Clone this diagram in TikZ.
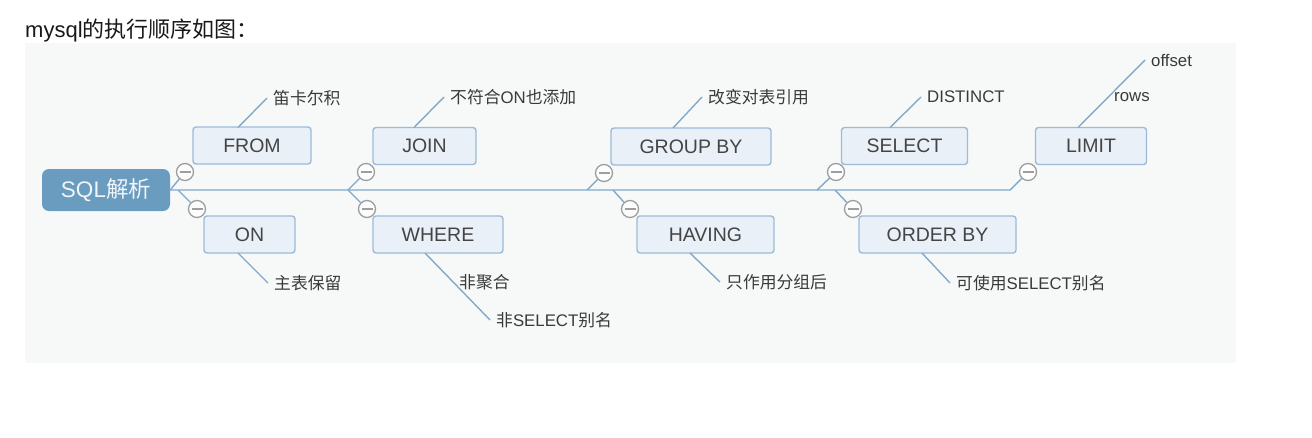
\documentclass[tikz,border=0pt]{standalone}
\usepackage{fontspec}
\setmainfont{Liberation Sans}
\newfontfamily\cjk{Noto Sans CJK SC}
\newcommand\zhtxt[1]{{\cjk #1}}
\definecolor{panelc}{HTML}{F7F9F8}
\definecolor{linec}{HTML}{82A9CC}
\definecolor{bordc}{HTML}{9BBBD8}
\definecolor{boxc}{HTML}{E9F0F7}
\definecolor{rootc}{HTML}{6A9CC0}
\definecolor{txtc}{HTML}{444444}
\definecolor{lblc}{HTML}{3A3A3A}
\definecolor{circc}{HTML}{9E9E9E}
\tikzset{
  conn/.style={draw=linec, line width=1.4pt},
  boxnode/.style={draw=bordc, fill=boxc, rounded corners=3pt, line width=1.4pt,
    minimum height=37pt, inner sep=0pt, text=txtc, font=\fontsize{19.5}{19.5}\selectfont},
  rootnode/.style={fill=rootc, rounded corners=7pt, minimum width=128pt, minimum height=42pt,
    inner sep=0pt, text=white!90!rootc, font=\fontsize{22.5}{22.5}\selectfont},
  collapse/.style={circle, draw=circc, fill=white!70!panelc, line width=1.3pt, minimum size=17pt, inner sep=0pt,
    path picture={\draw[circc, line width=1.3pt] ([xshift=-5.5pt]path picture bounding box.center) -- ([xshift=5.5pt]path picture bounding box.center);}},
  lbl/.style={anchor=west, inner xsep=6pt, inner ysep=2pt, text=lblc, font=\fontsize{16.8}{16.8}\selectfont},
}
\begin{document}
\begin{tikzpicture}[x=1pt, y=-1pt]
\useasboundingbox[fill=white] (0,0) rectangle (1312,437);
\fill[panelc] (25,43) rectangle (1236,363);
\node[anchor=west, inner sep=0pt, text=black!90, font=\fontsize{22}{22}\selectfont] (title) at (25,30) {mysql\zhtxt{的执行顺序如图：}};

% spine coordinates
\coordinate (b0) at (178,190);
\coordinate (b1) at (348,190);
\coordinate (b2) at (587,190);
\coordinate (b2h) at (613,190);
\coordinate (b3) at (817,190);
\coordinate (b3o) at (835,190);
\coordinate (b4) at (1010,190);

% boxes
\node[rootnode] (root) at (106,190) {SQL\zhtxt{解析}};
\node[boxnode, minimum width=118pt] (FROM) at (252,145.5) {FROM};
\node[boxnode, minimum width=91pt] (ON) at (249.5,234.5) {ON};
\node[boxnode, minimum width=103pt] (JOIN) at (424.5,146) {JOIN};
\node[boxnode, minimum width=130pt] (WHERE) at (438,234.5) {WHERE};
\node[boxnode, minimum width=160pt] (GROUP) at (691,146.5) {GROUP BY};
\node[boxnode, minimum width=137pt] (HAVING) at (705.5,234.5) {HAVING};
\node[boxnode, minimum width=126pt] (SELECT) at (904.5,146) {SELECT};
\node[boxnode, minimum width=111pt] (LIMIT) at (1091,146) {LIMIT};
\node[boxnode, minimum width=157pt] (ORDER) at (937.5,234.5) {ORDER BY};

% collapse markers
\node[collapse] (cFROM) at (185,172) {};
\node[collapse] (cON) at (197,209) {};
\node[collapse] (cJOIN) at (366,172) {};
\node[collapse] (cWHERE) at (367,209) {};
\node[collapse] (cGROUP) at (604,173) {};
\node[collapse] (cHAVING) at (630,209) {};
\node[collapse] (cSELECT) at (836,172) {};
\node[collapse] (cORDER) at (853,209) {};
\node[collapse] (cLIMIT) at (1028,172) {};

% main connectors
\draw[conn] (root.east) -- (cFROM);
\draw[conn] (root.east) -- (b4) -- (cLIMIT);
\draw[conn] (b0) -- (cON);
\draw[conn] (b1) -- (cJOIN);
\draw[conn] (b1) -- (cWHERE);
\draw[conn] (b2) -- (cGROUP);
\draw[conn] (b2h) -- (cHAVING);
\draw[conn] (b3) -- (cSELECT);
\draw[conn] (b3o) -- (cORDER);

% sub labels
\node[lbl] (lFROM) at (267,98) {\zhtxt{笛卡尔积}};
\node[lbl] (lON) at (268,283) {\zhtxt{主表保留}};
\node[lbl] (lJOIN) at (444,97) {\zhtxt{不符合}ON\zhtxt{也添加}};
\node[lbl] (lWHERE1) at (453,282) {\zhtxt{非聚合}};
\node[lbl] (lWHERE2) at (490,320) {\zhtxt{非}SELECT\zhtxt{别名}};
\node[lbl] (lGROUP) at (702,97) {\zhtxt{改变对表引用}};
\node[lbl] (lHAVING) at (720,282) {\zhtxt{只作用分组后}};
\node[lbl] (lSELECT) at (921,97) {DISTINCT};
\node[lbl] (lORDER) at (950,283) {\zhtxt{可使用}SELECT\zhtxt{别名}};
\node[lbl] (lOFF) at (1145,60) {offset};
\node[lbl] (lROWS) at (1108,97) {rows};

\coordinate (tFROM) at (238,127.5);
\coordinate (tON) at (238,253);
\coordinate (tJOIN) at (414,127.5);
\coordinate (tWHERE) at (425,253);
\coordinate (tGROUP) at (673,128);
\coordinate (tHAVING) at (690,253);
\coordinate (tSELECT) at (890,127.5);
\coordinate (tORDER) at (922,253);
\coordinate (tLIMIT) at (1078,127.5);

\draw[conn] (tFROM) -- (lFROM.west);
\draw[conn] (tON) -- (lON.west);
\draw[conn] (tJOIN) -- (lJOIN.west);
\draw[conn] (tWHERE) -- (lWHERE2.west);
\draw[conn] (tGROUP) -- (lGROUP.west);
\draw[conn] (tHAVING) -- (lHAVING.west);
\draw[conn] (tSELECT) -- (lSELECT.west);
\draw[conn] (tORDER) -- (lORDER.west);
\draw[conn] (tLIMIT) -- (lOFF.west);
\end{tikzpicture}
\end{document}
